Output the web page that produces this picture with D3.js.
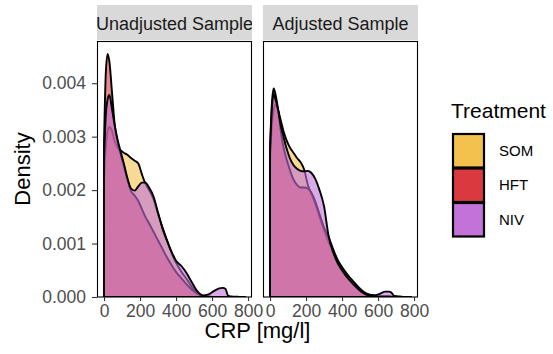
<!DOCTYPE html>
<html>
<head>
<meta charset="utf-8">
<script src="https://cdn.jsdelivr.net/npm/d3@7"></script>
<style>
  body { margin: 0; background: #fff; }
  svg { font-family: "Liberation Sans", Arial, sans-serif; }
</style>
</head>
<body>
<div class="chart"></div>
<script>
// CRP grid the densities were read on (mg/l)
const crp = [0, 10, 20, 30, 45, 60, 75, 90, 110, 130, 150, 170, 190, 210, 230, 250, 275, 300,
  325, 350, 375, 400, 430, 460, 490, 520, 550, 580, 610, 640, 660, 675, 690, 720, 750, 783];

// unadjusted sample
const somUnadj = [0.0022, 0.0028, 0.0031, 0.00318, 0.0031, 0.0029, 0.0028, 0.00275, 0.0027, 0.00266, 0.0026, 0.00255,
  0.0025, 0.0023, 0.00212, 0.002, 0.00183, 0.00155, 0.0013, 0.00106, 0.00082, 0.00064, 0.00047, 0.00033,
  0.00018, 0.00007, 0.00002, 0.00001, 0, 0, 0, 0, 0, 0, 0, 0];
const hftUnadj = [0.0029, 0.0042, 0.00455, 0.0044, 0.0038, 0.0032, 0.0029, 0.0027, 0.00245, 0.0022, 0.00198, 0.0019,
  0.0018, 0.00165, 0.0015, 0.00138, 0.00122, 0.00106, 0.0009, 0.00074, 0.0006, 0.00047, 0.00035, 0.00023,
  0.00013, 0.00006, 0.00002, 0.00001, 0, 0, 0, 0, 0, 0, 0, 0];
const nivUnadj = [0.0026, 0.0034, 0.0037, 0.00378, 0.0035, 0.0032, 0.00295, 0.00275, 0.0025, 0.00222, 0.00203, 0.00199,
  0.00207, 0.00214, 0.00214, 0.00205, 0.00188, 0.00158, 0.00128, 0.00105, 0.00085, 0.00068, 0.00058, 0.00044,
  0.00026, 0.0001, 0.00003, 0.00005, 0.00011, 0.00016, 0.00017, 0.00015, 0.00002, 0.000005, 0.000003, 0.000002];

// adjusted sample
const somAdj = [0.0025, 0.0032, 0.0035, 0.0036, 0.0035, 0.0033, 0.0031, 0.00295, 0.0028, 0.0027, 0.0026, 0.00252,
  0.00238, 0.0021, 0.00193, 0.00175, 0.0015, 0.00125, 0.00103, 0.00083, 0.00064, 0.0005, 0.00036, 0.00024,
  0.00014, 0.00006, 0.00002, 0.00001, 0, 0, 0, 0, 0, 0, 0, 0];
const hftAdj = [0.0028, 0.0036, 0.0039, 0.0038, 0.0035, 0.0031, 0.0028, 0.0026, 0.00238, 0.0022, 0.0021, 0.00205,
  0.00205, 0.00203, 0.00195, 0.0018, 0.00155, 0.0013, 0.00112, 0.0009, 0.0007, 0.00056, 0.00042, 0.0003,
  0.00019, 0.0001, 0.00005, 0.00003, 0.00002, 0.00002, 0.00002, 0.00001, 0.00001, 0, 0, 0];
const nivAdj = [0.0027, 0.0035, 0.0038, 0.0037, 0.0035, 0.0032, 0.003, 0.0028, 0.0026, 0.00247, 0.0024, 0.00236,
  0.00235, 0.00236, 0.00232, 0.00222, 0.002, 0.0017, 0.00115, 0.00085, 0.00064, 0.0005, 0.00036, 0.00025,
  0.00015, 0.00007, 0.00003, 0.00003, 0.00006, 0.0001, 0.0001, 0.00008, 0.00002, 0.00001, 0, 0];

const treatments = ["SOM", "HFT", "NIV"];
const colors = ["#F2C14E", "#DA3A3F", "#C272D9"];
const facets = ["Unadjusted Sample", "Adjusted Sample"];
const facetSeries = [[somUnadj, hftUnadj, nivUnadj], [somAdj, hftAdj, nivAdj]];
const xTicks = [0, 200, 400, 600, 800];
const yTicks = [0, 0.001, 0.002, 0.003, 0.004];

const width = 553, height = 354;
const panelTop = 41, panelBottom = 297, panelW = 155;
const panelLeft = [97, 263];

const svg = d3.select('.chart')
  .append('svg')
  .attr('width', width)
  .attr('height', height);

const y = d3.scaleLinear()
  .domain([0, 0.00479])
  .range([panelBottom, panelTop]);

facets.forEach((title, i) => {
  const x0 = panelLeft[i];
  const x = d3.scaleLinear()
    .domain([-39, 822])
    .range([x0, x0 + panelW]);

  // strip
  svg.append('clipPath').attr('id', 'strip' + i)
    .append('rect').attr('x', x0).attr('y', 5).attr('width', panelW).attr('height', 35);
  const strip = svg.append('g').attr('clip-path', `url(#strip${i})`);
  strip.append('rect')
    .attr('x', x0).attr('y', 5).attr('width', panelW).attr('height', 35)
    .attr('fill', '#d9d9d9');
  strip.append('text')
    .attr('x', x0 + panelW / 2).attr('y', 30)
    .attr('text-anchor', 'middle')
    .attr('font-size', 18)
    .attr('fill', '#1a1a1a')
    .text(title);

  // densities
  svg.append('clipPath').attr('id', 'panel' + i)
    .append('rect').attr('x', x0).attr('y', panelTop).attr('width', panelW).attr('height', panelBottom - panelTop);

  const area = d3.area()
    .x((d, k) => x(crp[k]))
    .y0(y(0))
    .y1(d => y(d))
    .curve(d3.curveMonotoneX);

  svg.append('g')
    .attr('clip-path', `url(#panel${i})`)
    .selectAll('.density')
    .data(facetSeries[i])
    .enter().append('path')
    .attr('class', 'density')
    .attr('d', area)
    .attr('fill', (d, k) => colors[k])
    .attr('fill-opacity', 0.6)
    .attr('stroke', '#000')
    .attr('stroke-width', 1.9)
    .attr('stroke-linejoin', 'round');

  // panel border
  svg.append('rect')
    .attr('x', x0 + 0.5).attr('y', panelTop + 0.5)
    .attr('width', panelW - 1).attr('height', panelBottom - panelTop - 0.5)
    .attr('fill', 'none')
    .attr('stroke', '#000')
    .attr('stroke-width', 1.1);

  // x axis
  const xa = svg.append('g')
    .attr('transform', `translate(0,${panelBottom})`)
    .call(d3.axisBottom(x).tickValues(xTicks).tickSize(4).tickPadding(4).tickFormat(d3.format('d')));
  xa.select('.domain').remove();
  xa.selectAll('line').attr('stroke', '#333333').attr('stroke-width', 1.1);
  xa.selectAll('text').attr('font-size', 17.5).attr('fill', '#4d4d4d').attr('font-family', null);

  if (i === 0) {
    const ya = svg.append('g')
      .attr('transform', `translate(${x0},0)`)
      .call(d3.axisLeft(y).tickValues(yTicks).tickSize(5).tickPadding(6).tickFormat(d3.format('.3f')));
    ya.select('.domain').remove();
    ya.selectAll('line').attr('stroke', '#333333').attr('stroke-width', 1.1);
    ya.selectAll('text').attr('font-size', 17.5).attr('fill', '#4d4d4d').attr('font-family', null);
  }
});

// axis titles
svg.append('text')
  .attr('x', (panelLeft[0] + panelLeft[1] + panelW) / 2).attr('y', 338)
  .attr('text-anchor', 'middle')
  .attr('font-size', 22)
  .text('CRP [mg/l]');

svg.append('text')
  .attr('transform', `translate(30,${(panelTop + panelBottom) / 2}) rotate(-90)`)
  .attr('text-anchor', 'middle')
  .attr('font-size', 22)
  .text('Density');

// legend
const legend = svg.append('g');
legend.append('text')
  .attr('x', 451).attr('y', 118)
  .attr('font-size', 21)
  .text('Treatment');

const keyH = 34.5;
const keys = legend.selectAll('.key')
  .data(treatments)
  .enter().append('g')
  .attr('class', 'key')
  .attr('transform', (d, k) => `translate(452,${133 + k * keyH})`);

keys.append('rect')
  .attr('x', 1).attr('y', 1)
  .attr('width', 31).attr('height', keyH - 1)
  .attr('fill', (d, k) => colors[k])
  .attr('stroke', '#000')
  .attr('stroke-width', 2.2);

keys.append('text')
  .attr('x', 47).attr('y', keyH / 2 + 5.5)
  .attr('font-size', 15)
  .attr('fill', '#000')
  .text(d => d);
</script>
</body>
</html>
